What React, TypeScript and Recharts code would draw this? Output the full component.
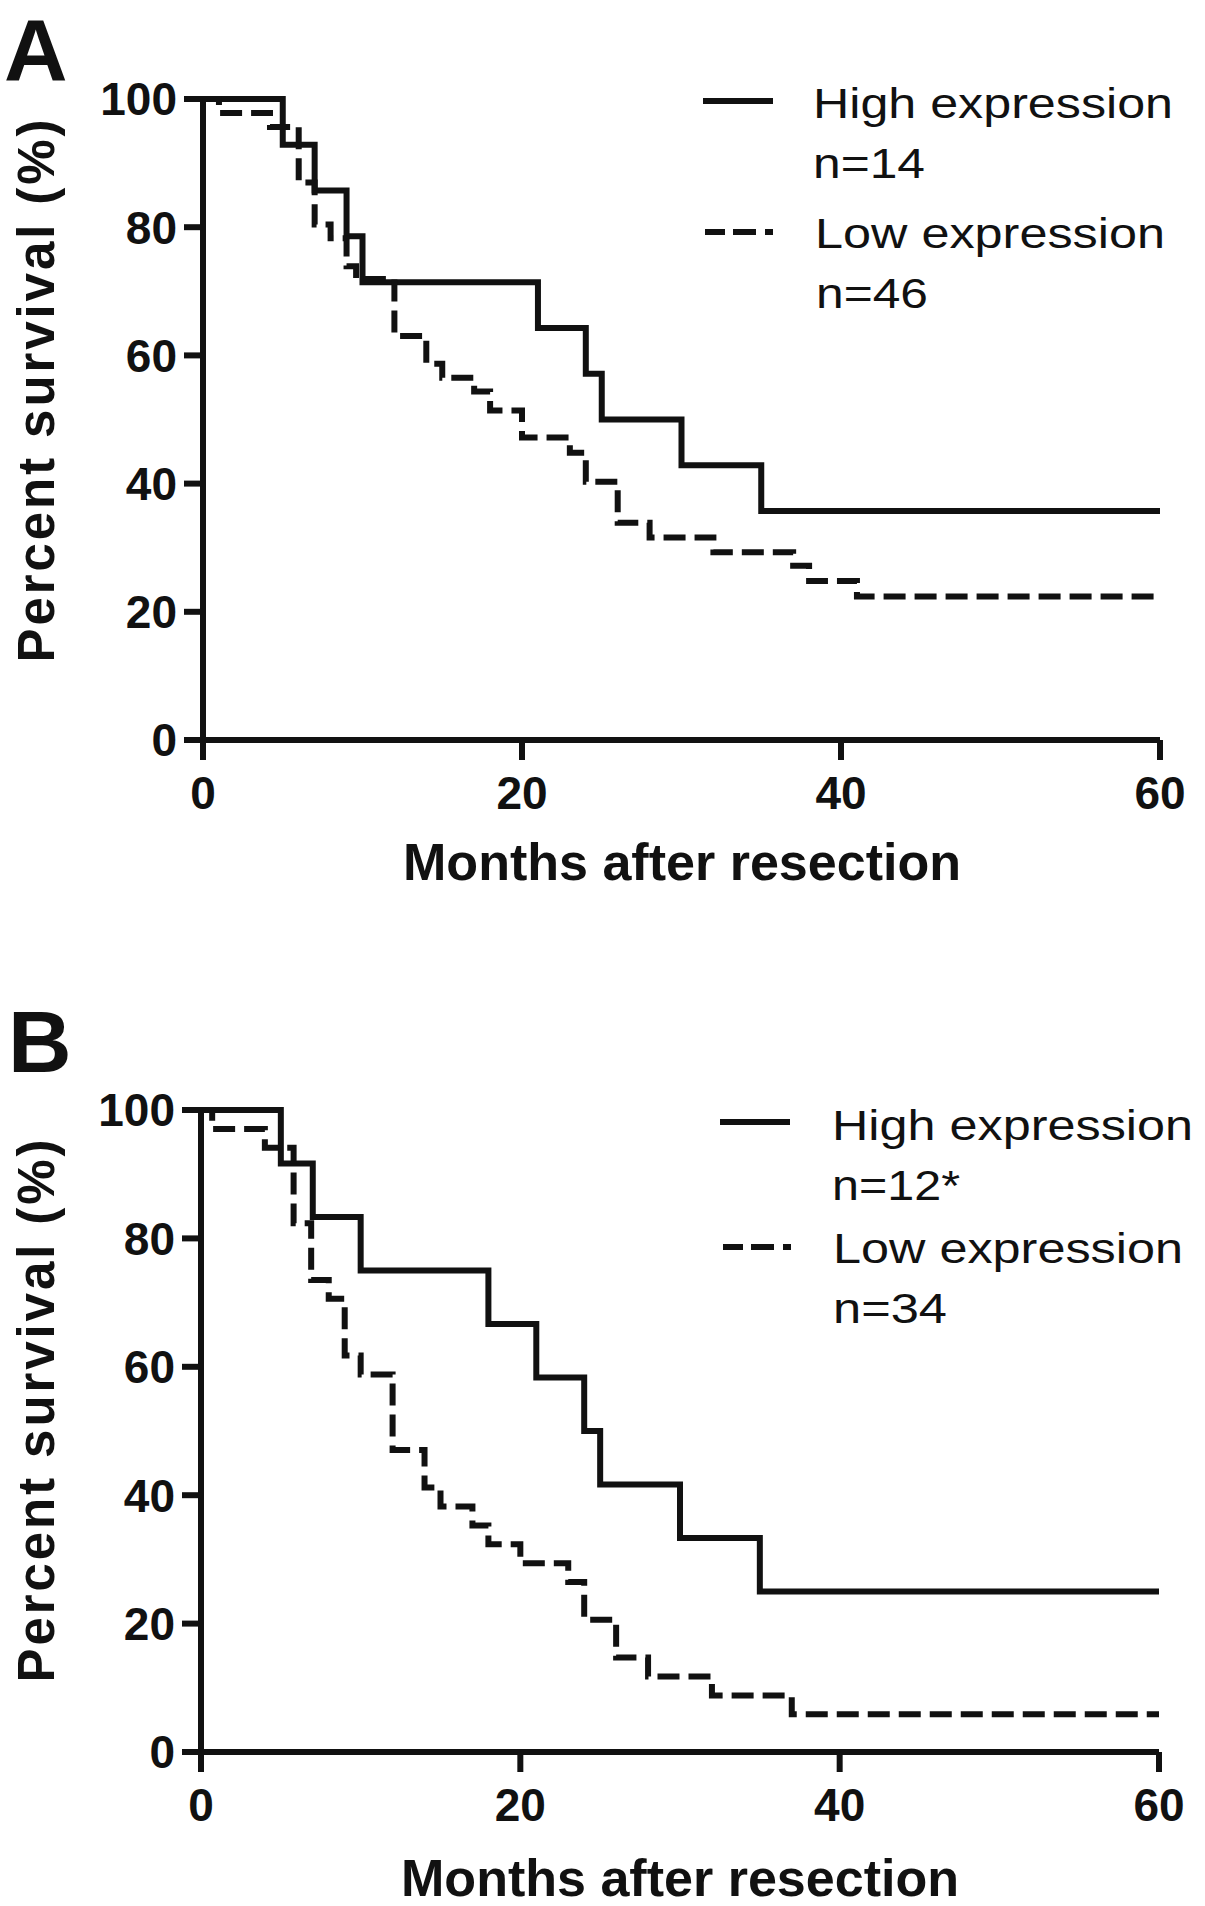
import React from "react";
import { LineChart, Line, XAxis, YAxis } from "recharts";

const FONT = '"Liberation Sans", Arial, Helvetica, sans-serif';
const INK = "#111111";
const DASH = "22 9";
const AXIS_W = 60;
const AXIS_H = 60;
const AXIS_STROKE = 6;
const CURVE_STROKE = 6;

const monthTicks = [0, 20, 40, 60];
const survivalTicks = [0, 20, 40, 60, 80, 100];

// Panel A, high expression (n=14)
const monthsAHigh = [0, 5, 7, 9, 10, 21, 24, 25, 30, 35, 60];
const survAHigh = [100, 92.86, 85.71, 78.57, 71.43, 64.29, 57.14, 50, 42.86, 35.71, 35.71];

// Panel A, low expression (n=46)
const monthsALow = [0, 1, 4.2, 6, 7, 8, 9, 9.6, 12, 14, 15, 17, 18, 20, 23, 24, 26, 28, 32, 37, 38, 41, 60];
const survALow = [100, 97.83, 95.65, 86.96, 80.43, 78.26, 73.91, 71.9, 63.04, 58.7, 56.52, 54.35, 51.4, 47.2, 44.8, 40.3, 33.9, 31.6, 29.3, 27.2, 24.8, 22.4, 22.4];

// Panel B, high expression (n=12)
const monthsBHigh = [0, 5, 7, 10, 18, 21, 24, 25, 30, 35, 60];
const survBHigh = [100, 91.67, 83.33, 75, 66.67, 58.33, 50, 41.67, 33.33, 25, 25];

// Panel B, low expression (n=34)
const monthsBLow = [0, 0.7, 4, 5.8, 6.9, 8, 9, 10, 12, 14, 15, 17, 18, 20, 23, 24, 26, 28, 32, 37, 60];
const survBLow = [100, 97.06, 94.12, 82.35, 73.53, 70.59, 61.76, 58.82, 47.06, 41.18, 38.24, 35.29, 32.35, 29.41, 26.47, 20.59, 14.71, 11.76, 8.82, 5.88, 5.88];

const legendA = ["High expression", "n=14", "Low expression", "n=46"];
const legendB = ["High expression", "n=12*", "Low expression", "n=34"];

const toSeries = (months: number[], surv: number[]) =>
  months.map((t, i) => ({ t, s: surv[i] }));

type Layout = {
  top: number;
  height: number;
  plot: { top: number; right: number; bottom: number; left: number };
  letterX: number;
  letterY: number;
  solid: [number, number, number];
  dashed: [number, number, number];
  rows: { x: number; y: number; len: number }[];
  yTitleCy: number;
  xTitleCx: number;
  xTitleY: number;
};

// plot = distance of the plot box from each edge of the panel
const layoutA: Layout = {
  top: 0,
  height: 950,
  plot: { top: 99, right: 45, bottom: 210, left: 203 },
  letterX: 4,
  letterY: 80,
  solid: [703, 773, 101],
  dashed: [705, 777, 232],
  rows: [
    { x: 813, y: 118, len: 360 },
    { x: 813, y: 178, len: 112 },
    { x: 815, y: 248, len: 350 },
    { x: 816, y: 308, len: 112 },
  ],
  yTitleCy: 391,
  xTitleCx: 682,
  xTitleY: 880,
};

const layoutB: Layout = {
  top: 950,
  height: 956,
  plot: { top: 160, right: 46, bottom: 154, left: 201 },
  letterX: 8,
  letterY: 122,
  solid: [720, 790, 172],
  dashed: [723, 795, 297],
  rows: [
    { x: 832, y: 190, len: 361 },
    { x: 832, y: 250, len: 128 },
    { x: 833, y: 313, len: 350 },
    { x: 833, y: 373, len: 114 },
  ],
  yTitleCy: 461,
  xTitleCx: 680,
  xTitleY: 946,
};

function Panel({
  letter,
  layout,
  high,
  low,
  legend,
}: {
  letter: string;
  layout: Layout;
  high: { t: number; s: number }[];
  low: { t: number; s: number }[];
  legend: string[];
}) {
  const tickStyle = { fontSize: 46, fontWeight: 700, fill: INK, fontFamily: FONT };
  const p = layout.plot;
  const margin = { top: p.top, right: p.right, bottom: p.bottom - AXIS_H, left: p.left - AXIS_W };
  return (
    <div style={{ position: "absolute", left: 0, top: layout.top, width: 1205, height: layout.height }}>
      <LineChart width={1205} height={layout.height} margin={margin}>
        <XAxis
          dataKey="t"
          type="number"
          domain={[0, 60]}
          ticks={monthTicks}
          interval={0}
          height={AXIS_H}
          tick={tickStyle}
          tickSize={20}
          tickMargin={16}
          axisLine={{ stroke: INK, strokeWidth: AXIS_STROKE }}
          tickLine={{ stroke: INK, strokeWidth: AXIS_STROKE }}
        />
        <YAxis
          type="number"
          domain={[0, 100]}
          ticks={survivalTicks}
          interval={0}
          width={AXIS_W}
          tick={tickStyle}
          tickSize={19}
          tickMargin={7}
          axisLine={{ stroke: INK, strokeWidth: AXIS_STROKE }}
          tickLine={{ stroke: INK, strokeWidth: AXIS_STROKE }}
        />
        <Line
          data={high}
          dataKey="s"
          type="stepAfter"
          stroke={INK}
          strokeWidth={CURVE_STROKE}
          dot={false}
          activeDot={false}
          isAnimationActive={false}
        />
        <Line
          data={low}
          dataKey="s"
          type="stepAfter"
          stroke={INK}
          strokeWidth={CURVE_STROKE}
          strokeDasharray={DASH}
          dot={false}
          activeDot={false}
          isAnimationActive={false}
        />
      </LineChart>
      <svg
        width={1205}
        height={layout.height}
        style={{ position: "absolute", left: 0, top: 0, pointerEvents: "none" }}
        fontFamily={FONT}
        fill={INK}
      >
        <text x={layout.letterX} y={layout.letterY} fontSize={88} fontWeight={700}>
          {letter}
        </text>
        <line x1={layout.solid[0]} x2={layout.solid[1]} y1={layout.solid[2]} y2={layout.solid[2]} stroke={INK} strokeWidth={CURVE_STROKE} />
        <line
          x1={layout.dashed[0]}
          x2={layout.dashed[1]}
          y1={layout.dashed[2]}
          y2={layout.dashed[2]}
          stroke={INK}
          strokeWidth={CURVE_STROKE}
          strokeDasharray="20 8 23 9 8 30"
        />
        {legend.map((label, i) => (
          <text
            key={label}
            x={layout.rows[i].x}
            y={layout.rows[i].y}
            fontSize={42}
            textLength={layout.rows[i].len}
            lengthAdjust="spacingAndGlyphs"
          >
            {label}
          </text>
        ))}
        <text
          transform={`translate(54,${layout.yTitleCy}) rotate(-90)`}
          textAnchor="middle"
          fontSize={51}
          fontWeight={700}
          textLength={543}
          lengthAdjust="spacing"
        >
          Percent survival (%)
        </text>
        <text
          x={layout.xTitleCx}
          y={layout.xTitleY}
          textAnchor="middle"
          fontSize={52}
          fontWeight={700}
          textLength={558}
          lengthAdjust="spacingAndGlyphs"
        >
          Months after resection
        </text>
      </svg>
    </div>
  );
}

export default function App() {
  return (
    <div
      style={{
        position: "absolute",
        left: 0,
        top: 0,
        width: 1205,
        height: 1906,
        background: "#fff",
        overflow: "hidden",
      }}
    >
      <Panel
        letter="A"
        layout={layoutA}
        high={toSeries(monthsAHigh, survAHigh)}
        low={toSeries(monthsALow, survALow)}
        legend={legendA}
      />
      <Panel
        letter="B"
        layout={layoutB}
        high={toSeries(monthsBHigh, survBHigh)}
        low={toSeries(monthsBLow, survBLow)}
        legend={legendB}
      />
    </div>
  );
}
